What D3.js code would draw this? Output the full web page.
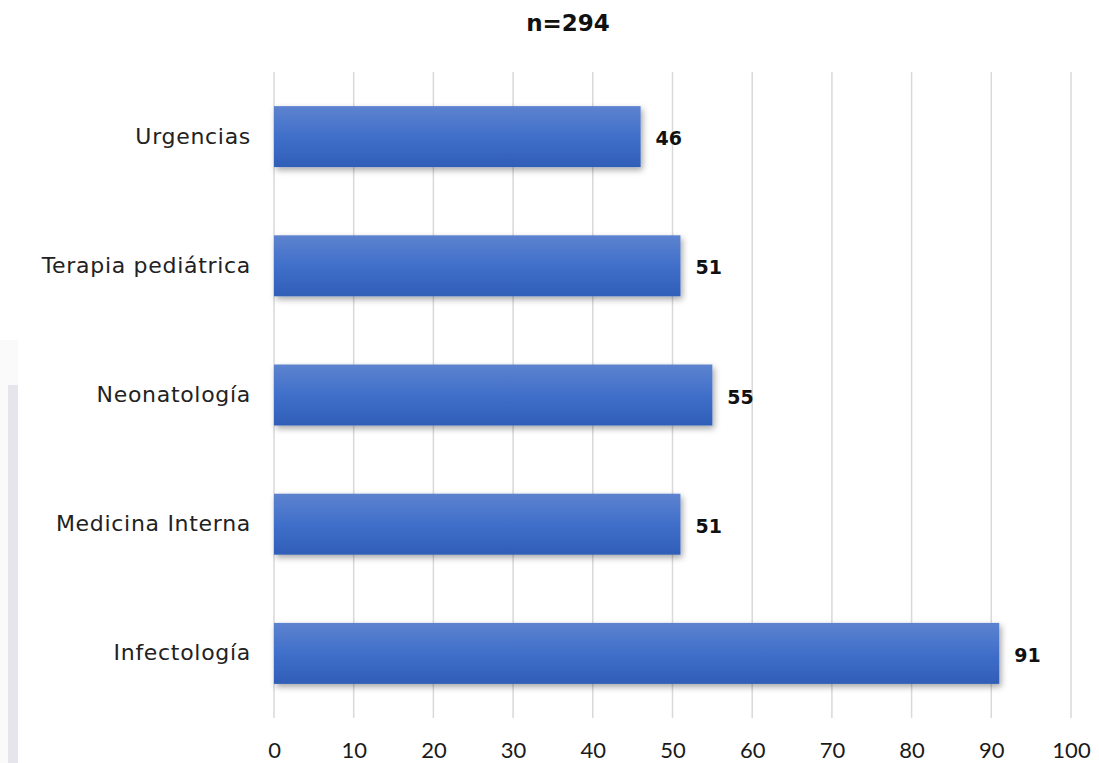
<!DOCTYPE html>
<html>
<head>
<meta charset="utf-8">
<script src="https://cdn.jsdelivr.net/npm/d3@7"></script>
<style>
  body { margin: 0; background: #fff; }
  svg { display: block; }
</style>
</head>
<body>
<svg id="chart" width="1099" height="763"></svg>
<script>
// Servicios hospitalarios y número de casos
const categories = ["Urgencias", "Terapia pediátrica", "Neonatología", "Medicina Interna", "Infectología"];
const values = [46, 51, 55, 51, 91];
const xTicks = [0, 10, 20, 30, 40, 50, 60, 70, 80, 90, 100];
const title = "n=294";

const wideFont = "'DejaVu Sans', sans-serif";
const tickFont = "Lato, 'Open Sans', sans-serif";
const svg = d3.select("#chart");

// decorative side strip at the left edge
svg.append("rect").attr("x", 0).attr("y", 340).attr("width", 18).attr("height", 423).attr("fill", "#fafafb");
svg.append("rect").attr("x", 8).attr("y", 385).attr("width", 10).attr("height", 378).attr("fill", "#e6e5ec");

const x = d3.scaleLinear().domain([0, 100]).range([274, 1071]);
const y = d3.scaleBand().domain(categories).range([72, 718]).paddingInner(0.528).paddingOuter(0.264);

const defs = svg.append("defs");
const grad = defs.append("linearGradient").attr("id", "barGrad")
  .attr("x1", 0).attr("y1", 0).attr("x2", 0).attr("y2", 1);
grad.append("stop").attr("offset", "0%").attr("stop-color", "#5d83cf");
grad.append("stop").attr("offset", "50%").attr("stop-color", "#406fca");
grad.append("stop").attr("offset", "100%").attr("stop-color", "#2f5eb7");

const shadow = defs.append("filter").attr("id", "barShadow")
  .attr("x", "-5%").attr("y", "-20%").attr("width", "115%").attr("height", "160%");
shadow.append("feDropShadow").attr("dx", 2).attr("dy", 3).attr("stdDeviation", 3)
  .attr("flood-color", "#000").attr("flood-opacity", 0.35);

// vertical gridlines
svg.append("g").selectAll("line").data(xTicks).join("line")
  .attr("x1", d => x(d)).attr("x2", d => x(d))
  .attr("y1", 72).attr("y2", 718)
  .attr("stroke", "#d9d9d9").attr("stroke-width", 1.5);

// x axis tick labels
const xAxis = d3.axisBottom(x).tickValues(xTicks).tickSize(0).tickPadding(0);
const gx = svg.append("g").attr("transform", "translate(0,738)").call(xAxis);
gx.select(".domain").remove();
gx.selectAll("text")
  .attr("font-family", tickFont).attr("font-size", 22).attr("fill", "#1a1a1a")
  .attr("dy", "0.9em");

// category labels
const yAxis = d3.axisLeft(y).tickSize(0).tickPadding(0);
const gy = svg.append("g").attr("transform", "translate(251,0)").call(yAxis);
gy.select(".domain").remove();
gy.selectAll("text")
  .attr("font-family", wideFont).attr("font-size", 22).attr("fill", "#222")
  .attr("letter-spacing", "0.7px");

// bars
svg.append("g").selectAll("rect").data(values).join("rect")
  .attr("x", x(0))
  .attr("y", (d, i) => y(categories[i]))
  .attr("width", d => x(d) - x(0))
  .attr("height", y.bandwidth())
  .attr("fill", "url(#barGrad)")
  .attr("filter", "url(#barShadow)");

// value labels
svg.append("g").selectAll("text").data(values).join("text")
  .attr("x", d => x(d) + 15)
  .attr("y", (d, i) => y(categories[i]) + y.bandwidth() / 2 + 2)
  .attr("dy", "0.35em")
  .attr("font-family", wideFont).attr("font-size", 19).attr("font-weight", "bold")
  .attr("fill", "#111")
  .text(d => d);

// title
svg.append("text")
  .attr("x", 568).attr("y", 31)
  .attr("text-anchor", "middle")
  .attr("font-family", wideFont).attr("font-size", 23).attr("font-weight", "bold")
  .attr("fill", "#111")
  .text(title);
</script>
</body>
</html>
